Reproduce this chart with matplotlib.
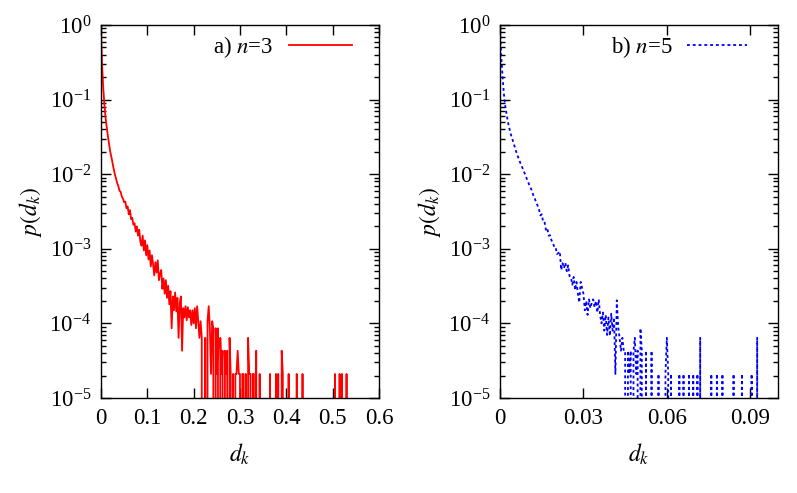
import numpy as np
import matplotlib
matplotlib.use("Agg")
import matplotlib.pyplot as plt
from matplotlib.ticker import LogLocator, FuncFormatter, FixedLocator, NullFormatter

plt.rcParams['font.family'] = 'serif'
plt.rcParams['font.serif'] = ['Liberation Serif', 'DejaVu Serif']
plt.rcParams['mathtext.fontset'] = 'stix'

# ---- panel a) n=3, histogram bins of width 0.0025 ----
bin3 = 0.0025
p3_head = [0.89, 0.28, 0.14, 0.085, 0.056, 0.042, 0.032, 0.025, 0.020, 0.017,
           0.014, 0.0117, 0.0100, 0.0087, 0.0076, 0.0069, 0.0060, 0.0058, 0.0050, 0.0047,
           0.0042, 0.0043, 0.0035, 0.0037, 0.0029, 0.0033, 0.0025, 0.0026, 0.0021, 0.0022,
           0.0017, 0.0020, 0.0015, 0.0018, 0.00125, 0.0011, 0.0015, 0.00095, 0.0013, 0.00082,
           0.00112, 0.00072, 0.00095, 0.00058, 0.00082, 0.00062, 0.00044, 0.00066, 0.00048, 0.0007,
           0.00038, 0.00046, 0.00052, 0.00029, 0.0004, 0.00025, 0.00038, 0.00022, 0.00032, 0.00018,
           0.00027, 8.6e-5, 0.00023, 0.00015, 0.00026, 0.000145, 0.00022, 6.4e-5, 0.00019, 0.00023,
           4.3e-5, 0.00016, 0.00012, 0.00017, 0.00011, 0.000165, 0.00012, 0.00015, 9.5e-5, 0.00015,
           0.0001, 0.00016, 8.6e-5, 0.00017, 0.000107, 6.4e-5, 0.000107]
tail3_d = [0.2175, 0.2250, 0.2300, 0.2325, 0.2350, 0.2375, 0.2400, 0.2425, 0.2475, 0.2500,
           0.2525, 0.2575, 0.2600, 0.2625, 0.2675, 0.2700, 0.2725, 0.2775, 0.2800, 0.2850,
           0.2900, 0.2925, 0.2950, 0.2975, 0.3000, 0.3050, 0.3075, 0.3125, 0.3175, 0.3200,
           0.3225, 0.3275, 0.3300, 0.3350, 0.3425, 0.3650, 0.3775, 0.3825, 0.3900, 0.3925,
           0.4050, 0.4225, 0.4350, 0.5050, 0.5150, 0.5200, 0.5300]
tail3_p = [6.4e-5, 6.4e-5, 1.07e-4, 1.7e-4, 8.6e-5, 2.1e-5, 1.07e-4, 8.6e-5, 8.6e-5, 2.1e-5,
           8.6e-5, 6.4e-5, 2.1e-5, 4.3e-5, 4.3e-5, 2.1e-5, 4.3e-5, 6.4e-5, 2.1e-5, 2.1e-5,
           2.1e-5, 2.1e-5, 4.3e-5, 2.1e-5, 2.1e-5, 2.1e-5, 2.1e-5, 2.1e-5, 6.4e-5, 2.1e-5,
           2.1e-5, 2.1e-5, 2.1e-5, 4.3e-5, 2.1e-5, 2.1e-5, 2.1e-5, 2.1e-5, 4.3e-5, 2.1e-5,
           2.1e-5, 2.1e-5, 2.1e-5, 2.1e-5, 2.1e-5, 2.1e-5, 2.1e-5]

# ---- panel b) n=5, histogram bins of width 0.0005 ----
bin5 = 0.0005
p5_head = [0.85, 0.35, 0.18, 0.107, 0.076, 0.059, 0.047, 0.039, 0.033, 0.029,
           0.025, 0.022, 0.019, 0.017, 0.0151, 0.0135, 0.0123, 0.011, 0.0100, 0.0089,
           0.0081, 0.0072, 0.0066, 0.0059, 0.0052, 0.0047, 0.0042, 0.0038, 0.0034, 0.0028,
           0.0029, 0.0023, 0.0023, 0.0018, 0.0019, 0.0015, 0.00152, 0.0013, 0.00122, 0.00105,
           0.00105, 0.00085, 0.00088, 0.00092, 0.00052, 0.00064, 0.00055, 0.00065, 0.0005, 0.0006,
           0.00043, 0.00042, 0.00033, 0.00042, 0.00028, 0.00036, 0.00025, 0.00019, 0.00036, 0.0003,
           0.00025, 0.00015, 0.0002, 0.00013, 0.00021, 0.00016, 0.00019, 0.00021, 0.000165, 0.0002,
           0.00014, 0.00021, 0.00013, 0.0001, 0.00014, 8.0e-5, 0.00013, 7.0e-5, 0.00012, 6.8e-5,
           0.000135, 8.0e-5, 0.00012, 2.1e-5, 0.000204, 9.0e-5, 6.4e-5, 4.3e-5, 6.4e-5, 4.3e-5]
tail5_d = [0.0450, 0.0460, 0.0465, 0.0470, 0.0480, 0.0485, 0.0490, 0.0495, 0.0505, 0.0510,
           0.0525, 0.0545, 0.0570, 0.0595, 0.0600, 0.0605, 0.0615, 0.0645, 0.0660, 0.0680,
           0.0695, 0.0710, 0.0720, 0.0760, 0.0780, 0.0800, 0.0840, 0.0870, 0.0905, 0.0925]
tail5_p = [4.3e-5, 4.3e-5, 2.1e-5, 4.3e-5, 4.3e-5, 6.4e-5, 2.1e-5, 4.3e-5, 8.6e-5, 4.3e-5,
           4.3e-5, 4.3e-5, 2.1e-5, 2.1e-5, 6.4e-5, 2.1e-5, 2.1e-5, 2.1e-5, 2.1e-5, 2.1e-5,
           2.1e-5, 2.1e-5, 6.4e-5, 2.1e-5, 2.1e-5, 2.1e-5, 2.1e-5, 2.1e-5, 2.1e-5, 6.4e-5]


def build(head, tail_d, tail_p, width, dmax):
    n = int(round(dmax / width)) + 1
    d = np.arange(n) * width
    p = np.zeros(n)
    p[:len(head)] = head
    for dd, pp in zip(tail_d, tail_p):
        p[int(round(dd / width))] = pp
    return d, p


d3, p3 = build(p3_head, tail3_d, tail3_p, bin3, 0.5375)
d5, p5 = build(p5_head, tail5_d, tail5_p, bin5, 0.0935)

fig = plt.figure(figsize=(7.97, 4.93), dpi=100)
ax1 = fig.add_axes([0.1267, 0.1927, 0.3488, 0.7566])
ax2 = fig.add_axes([0.6274, 0.1927, 0.3488, 0.7566])

ax1.plot(d3, p3, color='#ff0000', lw=1.3, label='a) $n$=3')
ax2.plot(d5, p5, color='#0000ff', lw=1.3, linestyle=(0, (1.6, 1.6)), label='b) $n$=5')

fmt = FuncFormatter(lambda v, pos: '%g' % v)
for ax, xmax, xt in [(ax1, 0.6, [0, 0.1, 0.2, 0.3, 0.4, 0.5, 0.6]),
                     (ax2, 0.1, [0, 0.03, 0.06, 0.09])]:
    ax.set_yscale('log')
    ax.set_ylim(1e-5, 1)
    ax.set_xlim(0, xmax)
    ax.xaxis.set_major_locator(FixedLocator(xt))
    ax.xaxis.set_major_formatter(fmt)
    ax.yaxis.set_major_locator(LogLocator(base=10, numticks=10))
    ax.yaxis.set_minor_locator(LogLocator(base=10, subs=np.arange(2, 10), numticks=10))
    ax.yaxis.set_minor_formatter(NullFormatter())
    ax.tick_params(which='both', direction='in', top=True, right=True, labelsize=16.5, width=1)
    ax.tick_params(which='major', length=7, pad=7)
    ax.tick_params(which='minor', length=3.5)
    for s in ax.spines.values():
        s.set_linewidth(1)
    ax.set_xlabel('$d_k$', fontsize=17, labelpad=9)
    ax.set_ylabel('$p(d_k)$', fontsize=17, labelpad=4)

ax1.legend(loc='upper right', bbox_to_anchor=(0.903, 0.975), frameon=False, markerfirst=False,
           handlelength=2.75, fontsize=16.5, borderaxespad=0, borderpad=0, handletextpad=0.7)
ax2.legend(loc='upper right', bbox_to_anchor=(0.888, 0.975), frameon=False, markerfirst=False,
           handlelength=2.6, fontsize=16.5, borderaxespad=0, borderpad=0, handletextpad=0.65)

plt.savefig('out.png', dpi=100)
